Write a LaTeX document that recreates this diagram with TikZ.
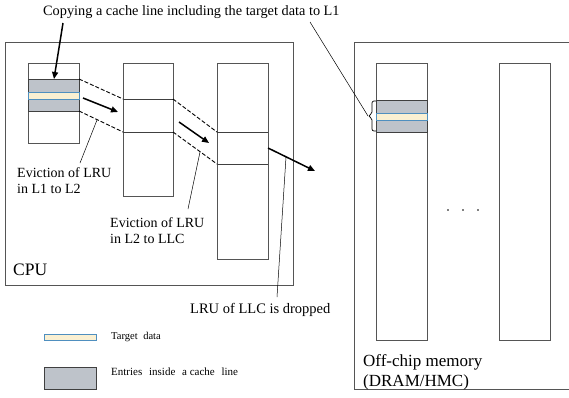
\documentclass[tikz,border=0pt]{standalone}
\usepackage{fontspec}
\setmainfont{Liberation Serif}
\usetikzlibrary{arrows.meta}
\definecolor{boxline}{HTML}{555555}
\definecolor{greyfill}{HTML}{BEC3CA}
\definecolor{targetfill}{HTML}{FAF0D2}
\definecolor{targetline}{HTML}{4F8FBF}
\begin{document}
\begin{tikzpicture}[x=1pt,y=-1pt,
  outer/.style={draw=boxline,line width=0.8pt},
  column/.style={draw=boxline,line width=0.8pt,fill=white},
  entry/.style={draw=black!75,line width=0.8pt,fill=greyfill},
  target/.style={draw=targetline,line width=0.8pt,fill=targetfill},
  cline/.style={draw=black!75,line width=0.8pt},
  evict/.style={line width=0.9pt,dash pattern=on 4pt off 2pt},
  move/.style={line width=1.5pt,-{Triangle[length=7pt,width=6pt]}},
  leader/.style={line width=0.5pt},
  lbl/.style={inner sep=0pt,anchor=west,align=left,font=\fontsize{14}{16}\selectfont},
  small/.style={inner sep=0pt,anchor=west,font=\fontsize{10.5}{12}\selectfont}
]
\useasboundingbox (0,0) rectangle (569,397);
\clip (0,0) rectangle (569,397);
% outer boxes
\draw[outer] (5,42) rectangle (293,285);
\draw[outer] (354,42) rectangle (600,389);
% columns
\draw[column] (28,63) rectangle (79,143);
\draw[column] (123,63) rectangle (173,196);
\draw[column] (217,63) rectangle (268,259);
\draw[column] (376,63) rectangle (427,340);
\draw[column] (499,63) rectangle (550,340);
% L1 cache line
\draw[entry] (28,79) rectangle (79,111);
\draw[target] (28,92) rectangle (79,99);
% L2 cache line
\draw[cline] (123,99) -- (173,99);
\draw[cline] (123,132) -- (173,132);
% LLC cache line
\draw[cline] (217,132) -- (268,132);
\draw[cline] (217,164) -- (268,164);
% memory cache line
\draw[entry] (376,100) rectangle (427,132);
\draw[target] (376,113) rectangle (427,120);
% named coordinates
\coordinate (l1a) at (79,79);   \coordinate (l1b) at (79,111);
\coordinate (l2a) at (123,99);  \coordinate (l2b) at (123,132);
\coordinate (l2c) at (173,99);  \coordinate (l2d) at (173,132);
\coordinate (l3a) at (217,132); \coordinate (l3b) at (217,164);
\coordinate (m1s) at (83,98);   \coordinate (m1e) at (118,112);
\coordinate (m2s) at (179,122); \coordinate (m2e) at (209,143);
\coordinate (m3s) at (268,148); \coordinate (m3e) at (315,171);
\coordinate (cps) at (63,23);   \coordinate (cpe) at (54,79);
\coordinate (brs) at (310,22);  \coordinate (brt) at (368,116);
\coordinate (ld1) at (97,120);  \coordinate (ld2) at (200,152);
\coordinate (ld3) at (286,157);
% eviction dashed lines
\draw[evict] (l1a) -- (l2a);
\draw[evict] (l1b) -- (l2b);
\draw[evict] (l2c) -- (l3a);
\draw[evict] (l2d) -- (l3b);
% movement arrows
\draw[move] (m1s) -- (m1e);
\draw[move] (m2s) -- (m2e);
\draw[move] (m3s) -- (m3e);
\draw[move] (cps) -- (cpe);
% bracket on memory
\draw[leader] (brs) -- (brt);
\draw[line width=0.7pt,rounded corners=2pt] (376,101) -- (372,101) -- (372,114) -- (brt) -- (372,118) -- (372,131) -- (376,131);
% texts
\node[lbl,font=\fontsize{14.3}{15}\selectfont] (top) at (43,12) {Copying a cache line\ including\ the target data to L1};
\node[lbl] (ev1) at (17,181) {Eviction of LRU\\in L1 to L2};
\node[lbl] (ev2) at (110,231) {Eviction of LRU\\in L2 to LLC};
\node[lbl,font=\fontsize{14.5}{16}\selectfont] (drop) at (190,310) {LRU of LLC is dropped};
\node[lbl,font=\fontsize{17.5}{18}\selectfont] (cpu) at (13,270) {CPU};
\node[lbl,font=\fontsize{17}{19.5}\selectfont] (mem) at (363,372.5) {Off-chip memory\\(DRAM/HMC)};
% leaders
\draw[leader] (80,163) -- (ld1);
\draw[leader] (188,209) -- (ld2);
\draw[leader] (277,297) -- (ld3);
% dots
\foreach \x in {448,463,478} \fill (\x,210) circle (0.9pt);
% legend
\draw[target] (44,334) rectangle (96,340);
\draw[entry] (44,367) rectangle (96,389);
\node[small] (lg1) at (111,337) {Target\hspace{3pt} data};
\node[small,font=\fontsize{11}{12}\selectfont] (lg2) at (111,372) {Entries\hspace{4pt} inside\hspace{4pt} a cache\hspace{4pt} line};
\end{tikzpicture}
\end{document}
